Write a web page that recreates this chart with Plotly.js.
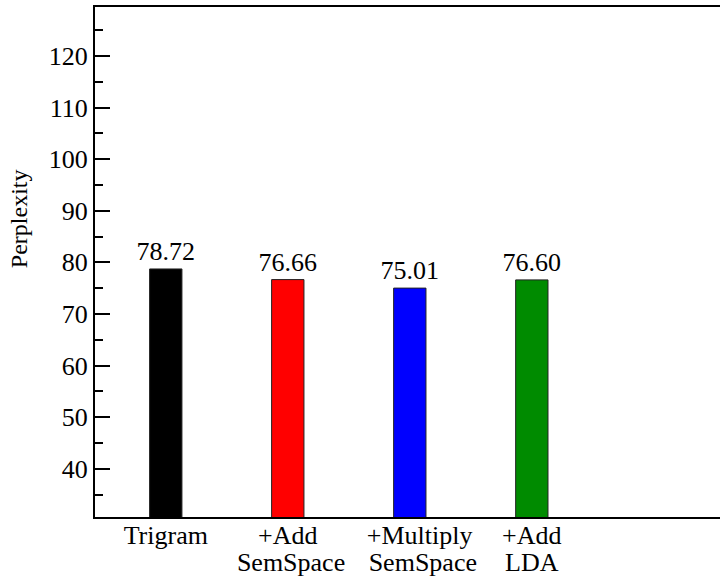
<!DOCTYPE html>
<html>
<head>
<meta charset="utf-8">
<script src="https://cdn.plot.ly/plotly-3.0.1.min.js"></script>
<style>
html,body{margin:0;padding:0;overflow:hidden;background:#fff;}
#chart{width:760px;height:576px;}
</style>
</head>
<body>
<div id="chart"></div>
<script>
const labelLine1 = ["Trigram", "+Add", "&nbsp;&nbsp;&nbsp;+Multiply", "+Add"];
const labelLine2 = ["", "&nbsp;SemSpace", "&nbsp;&nbsp;&nbsp;&nbsp;SemSpace", "LDA"];
const values = [78.72, 76.66, 75.01, 76.60];
const valueLabels = ["78.72", "76.66", "75.01", "76.60"];
const barColors = ["#000000", "#ff0000", "#0000ff", "#008b00"];
const yTickVals = [40, 50, 60, 70, 80, 90, 100, 110, 120];

const positions = values.map((v, i) => i);
const FONT = "Liberation Serif";
const XRANGE = [-0.58, 4.87];

const trace = {
  type: "bar",
  x: positions,
  y: values,
  width: 0.265,
  marker: {color: barColors, line: {color: "#222", width: 1}},
  text: valueLabels,
  textposition: "outside",
  constraintext: "none",
  cliponaxis: false,
  textfont: {family: FONT, size: 26, color: "#000"},
  outsidetextfont: {family: FONT, size: 26, color: "#000"},
  hoverinfo: "none"
};

// invisible helper trace so the second-line label axis is drawn
const helper = {
  type: "scatter", mode: "none",
  x: positions, y: values,
  xaxis: "x2", yaxis: "y",
  hoverinfo: "none", showlegend: false
};

const layout = {
  width: 760, height: 576,
  margin: {l: 95, r: 0, t: 7, b: 59},
  paper_bgcolor: "#fff", plot_bgcolor: "#fff",
  showlegend: false,
  font: {family: FONT, color: "#000"},
  xaxis: {
    range: XRANGE,
    tickvals: positions,
    ticktext: labelLine1,
    ticks: "",
    tickangle: 0,
    ticklabelstandoff: -6,
    showgrid: false, zeroline: false,
    showline: true, linecolor: "#000", linewidth: 2, mirror: true,
    tickfont: {family: FONT, size: 26, color: "#000"}
  },
  xaxis2: {
    overlaying: "x", anchor: "y", side: "bottom",
    range: XRANGE,
    tickvals: positions,
    ticktext: labelLine2,
    ticks: "",
    tickangle: 0,
    ticklabelstandoff: 27,
    showgrid: false, zeroline: false, showline: false,
    tickfont: {family: FONT, size: 26, color: "#000"}
  },
  yaxis: {
    range: [30.64, 129.5],
    tickvals: yTickVals,
    ticks: "inside", ticklen: 15, tickwidth: 2, tickcolor: "#000",
    minor: {ticks: "inside", ticklen: 8, tickwidth: 2, tickcolor: "#000", dtick: 5, tick0: 0},
    showgrid: false, zeroline: false,
    showline: true, linecolor: "#000", linewidth: 2, mirror: true,
    tickfont: {family: FONT, size: 26, color: "#000"}
  },
  annotations: [{
    text: "Perplexity",
    xref: "paper", yref: "paper",
    x: -0.115, y: 0.585,
    xanchor: "center", yanchor: "middle",
    textangle: -90, showarrow: false,
    font: {family: FONT, size: 24, color: "#000"}
  }]
};

Plotly.newPlot("chart", [trace, helper], layout, {staticPlot: true, displayModeBar: false});
</script>
</body>
</html>
